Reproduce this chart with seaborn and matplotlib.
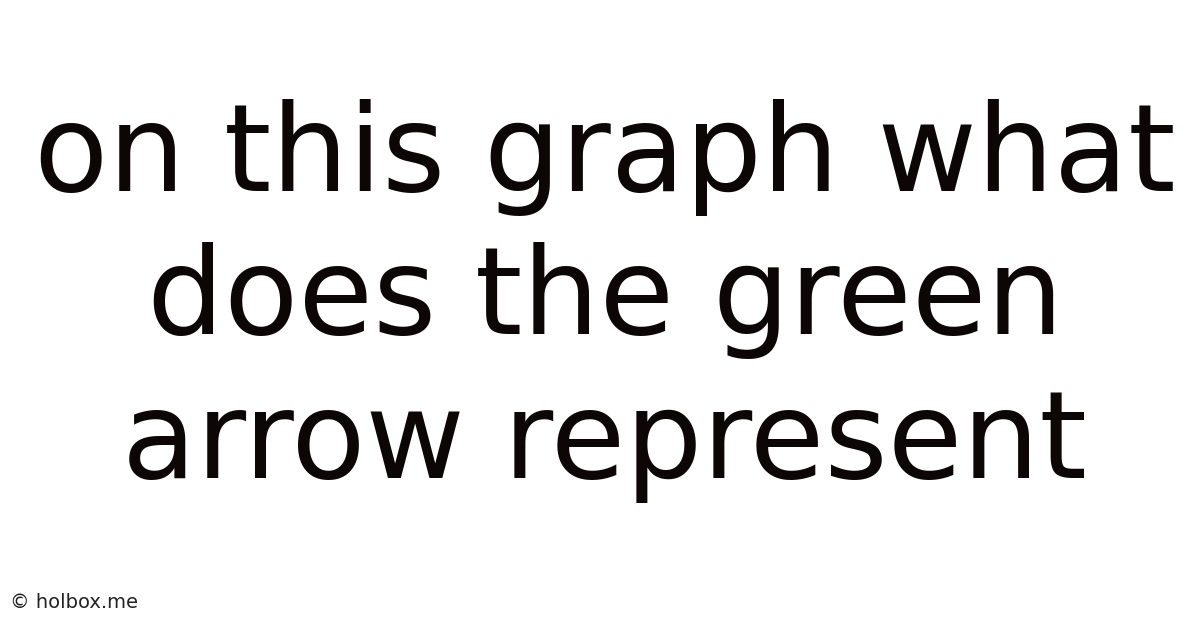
import matplotlib
matplotlib.use("Agg")
import matplotlib.pyplot as plt
import seaborn as sns

title_lines = ["on this graph what", "does the green", "arrow represent"]
watermark = "\u00a9 holbox.me"

sns.set_theme(style="white")
plt.rcParams['font.family'] = ['DejaVu Sans']

fig = plt.figure(figsize=(12, 6.28), dpi=100)
fig.patch.set_facecolor('#ffffff')
ax = fig.add_axes([0, 0, 1, 1])
ax.set_axis_off()
ax.set_xlim(0, 1)
ax.set_ylim(0, 1)

ax.text(0.504, 0.521, "\n".join(title_lines), ha='center', va='center',
        fontsize=87.4, color='#0d0606', linespacing=1.29)
ax.text(0.008, 0.041, watermark, ha='left', va='center',
        fontsize=14, color='#222222')

fig.savefig("out.png", dpi=100, facecolor=fig.get_facecolor())
